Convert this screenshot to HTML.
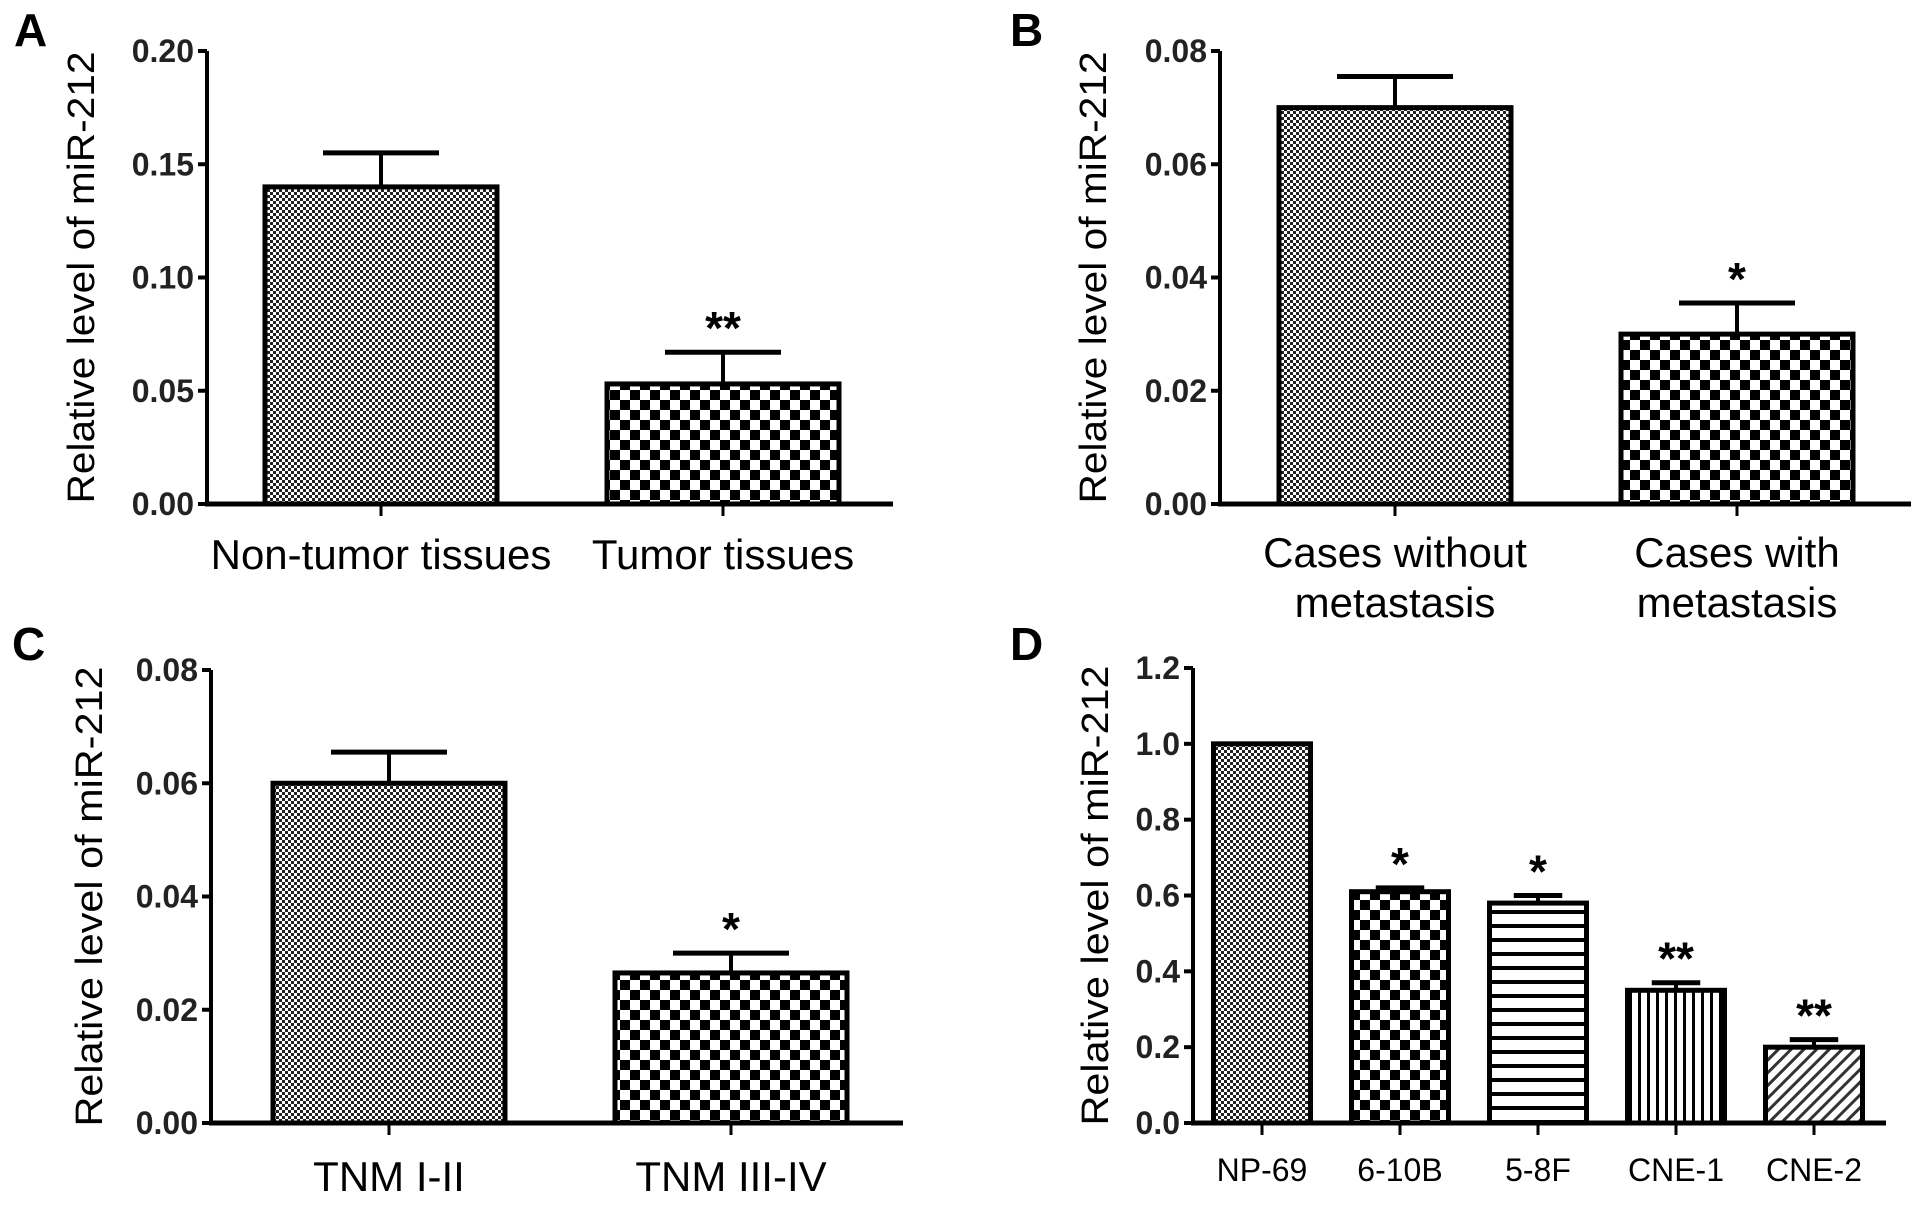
<!DOCTYPE html>
<html><head><meta charset="utf-8"><style>
html,body{margin:0;padding:0;background:#fff;}
svg{display:block;font-family:"Liberation Sans",Arial,sans-serif;}
</style></head><body>
<svg id="fig" width="1917" height="1211" viewBox="0 0 1917 1211">
<defs>
<pattern id="pFine" width="6" height="6" patternUnits="userSpaceOnUse"><rect width="6" height="6" fill="#fff"/><rect width="3" height="3" fill="#222"/><rect x="3" y="3" width="3" height="3" fill="#222"/></pattern>
<pattern id="pCoarse" width="20" height="20" patternUnits="userSpaceOnUse"><rect width="20" height="20" fill="#fff"/><rect width="10" height="10" fill="#000"/><rect x="10" y="10" width="10" height="10" fill="#000"/></pattern>
<pattern id="pHoriz" width="10" height="14" patternUnits="userSpaceOnUse"><rect width="10" height="14" fill="#fff"/><rect y="0" width="10" height="4" fill="#000"/></pattern>
<pattern id="pVert" width="9" height="10" patternUnits="userSpaceOnUse"><rect width="9" height="10" fill="#fff"/><rect width="3" height="10" fill="#000"/></pattern>
<pattern id="pDiag" width="9" height="9" patternUnits="userSpaceOnUse" patternTransform="rotate(45)"><rect width="9" height="9" fill="#fff"/><rect width="3" height="9" fill="#333"/></pattern>
</defs>
</svg>
<script>
// Panel A
const catsA = ["Non-tumor tissues", "Tumor tissues"];
const valsA = [0.140, 0.053];
const errA = [0.155, 0.067];
const starsA = ["", "**"];
const ticksA = ["0.00", "0.05", "0.10", "0.15", "0.20"];
// Panel B
const catsB = [["Cases without", "metastasis"], ["Cases with", "metastasis"]];
const valsB = [0.070, 0.030];
const errB = [0.0755, 0.0355];
const starsB = ["", "*"];
const ticksB = ["0.00", "0.02", "0.04", "0.06", "0.08"];
// Panel C
const catsC = ["TNM I-II", "TNM III-IV"];
const valsC = [0.060, 0.0265];
const errC = [0.0655, 0.030];
const starsC = ["", "*"];
const ticksC = ["0.00", "0.02", "0.04", "0.06", "0.08"];
// Panel D
const catsD = ["NP-69", "6-10B", "5-8F", "CNE-1", "CNE-2"];
const valsD = [1.0, 0.61, 0.58, 0.35, 0.20];
const errD = [1.0, 0.62, 0.60, 0.37, 0.22];
const starsD = ["", "*", "*", "**", "**"];
const ticksD = ["0.0", "0.2", "0.4", "0.6", "0.8", "1.0", "1.2"];

const NS = "http://www.w3.org/2000/svg";
const svg = document.getElementById("fig");
function mk(tag, attrs, parent) {
  const e = document.createElementNS(NS, tag);
  for (const k in attrs) e.setAttribute(k, attrs[k]);
  (parent || svg).appendChild(e);
  return e;
}

function panel(cfg) {
  const g = mk("g", {});
  
  
  const tickVals = cfg.ticks.map(Number);
  const ymax = tickVals[tickVals.length - 1];
  const y = v => cfg.y0 - (v / ymax) * (cfg.y0 - cfg.yTop);
  const n = cfg.cats.length;
  const xc = i => cfg.firstC + i * cfg.step;

  const L = mk("text", {x: cfg.letterX, y: cfg.letterY, "font-size": 46, "font-weight": "bold"}, g);
  L.textContent = cfg.letter;
  
  

  const yt = mk("text", {x: 0, y: 0, "font-size": 38, "text-anchor": "middle", textLength: cfg.titleLen, lengthAdjust: "spacingAndGlyphs", transform: `translate(${cfg.titleX},${(cfg.y0 + cfg.yTop) / 2}) rotate(-90)`}, g);
  yt.textContent = "Relative level of miR-212";
  
  

  const ax = mk("line", {x1: cfg.ax, y1: cfg.yTop, x2: cfg.ax, y2: cfg.y0, stroke: "#000", "stroke-width": 4}, g);
  
  
  cfg.ticks.forEach((t, i) => {
    const yy = y(tickVals[i]);
    const tl = mk("line", {x1: cfg.ax - 9, y1: yy, x2: cfg.ax, y2: yy, stroke: "#000", "stroke-width": 4}, g);
    
    
    const tx = mk("text", {x: cfg.ax - 13, y: yy + 11, "font-size": 32, "font-weight": "bold", "text-anchor": "end", fill: "#222"}, g);
    tx.textContent = t;
    
    
  });
  const xa = mk("line", {x1: cfg.ax - 2, y1: cfg.y0, x2: cfg.xEnd, y2: cfg.y0, stroke: "#000", "stroke-width": 5}, g);
  
  

  for (let i = 0; i < n; i++) {
    const c = xc(i), w = cfg.bw, top = y(cfg.vals[i]);
    const tk = mk("line", {x1: c, y1: cfg.y0, x2: c, y2: cfg.y0 + 12, stroke: "#000", "stroke-width": 3}, g);
    
    
    const eTop = y(cfg.errs[i]);
    if (cfg.errs[i] > cfg.vals[i]) {
      const el = mk("line", {x1: c, y1: top, x2: c, y2: eTop, stroke: "#000", "stroke-width": 4}, g);
      
      
      const ec = mk("line", {x1: c - w / 4, y1: eTop, x2: c + w / 4, y2: eTop, stroke: "#000", "stroke-width": 5}, g);
      
      
    }
    const b = mk("rect", {x: c - w / 2, y: top, width: w, height: cfg.y0 - top, fill: `url(#${cfg.fills[i]})`, stroke: "#000", "stroke-width": 5}, g);
    
    
    if (cfg.stars[i]) {
      const s = mk("text", {x: c, y: eTop - 8, "font-size": 46, "font-weight": "bold", "text-anchor": "middle"}, g);
      s.textContent = cfg.stars[i];
      
      
    }
    const lines = Array.isArray(cfg.cats[i]) ? cfg.cats[i] : [cfg.cats[i]];
    lines.forEach((ln, k) => {
      const t = mk("text", {x: c, y: cfg.labY + k * cfg.labGap, "font-size": cfg.labSize, "text-anchor": "middle"}, g);
      t.textContent = ln;
      
      
    });
  }
}

panel({letter: "A", letterX: 14, letterY: 46, titleX: 94, titleLen: 452, ax: 207, yTop: 51, y0: 504, xEnd: 893,
  cats: catsA, vals: valsA, errs: errA, stars: starsA, ticks: ticksA, firstC: 381, step: 342, bw: 232,
  fills: ["pFine", "pCoarse"], labY: 569, labGap: 0, labSize: 42});
panel({letter: "B", letterX: 1010, letterY: 46, titleX: 1106, titleLen: 452, ax: 1220, yTop: 51, y0: 504, xEnd: 1911,
  cats: catsB, vals: valsB, errs: errB, stars: starsB, ticks: ticksB, firstC: 1395, step: 342, bw: 232,
  fills: ["pFine", "pCoarse"], labY: 567, labGap: 50, labSize: 42});
panel({letter: "C", letterX: 12, letterY: 660, titleX: 102, titleLen: 460, ax: 211, yTop: 670, y0: 1123, xEnd: 903,
  cats: catsC, vals: valsC, errs: errC, stars: starsC, ticks: ticksC, firstC: 389, step: 342, bw: 232,
  fills: ["pFine", "pCoarse"], labY: 1191, labGap: 0, labSize: 42});
panel({letter: "D", letterX: 1010, letterY: 660, titleX: 1108, titleLen: 460, ax: 1193, yTop: 668, y0: 1123, xEnd: 1886,
  cats: catsD, vals: valsD, errs: errD, stars: starsD, ticks: ticksD, firstC: 1262, step: 138, bw: 97,
  fills: ["pFine", "pCoarse", "pHoriz", "pVert", "pDiag"], labY: 1181, labGap: 0, labSize: 32});
</script>
</body></html>
